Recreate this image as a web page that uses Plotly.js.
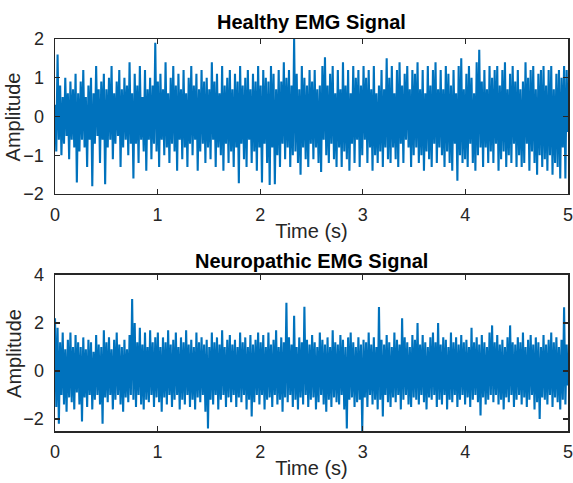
<!DOCTYPE html>
<html>
<head>
<meta charset="utf-8">
<script src="https://cdn.plot.ly/plotly-3.0.1.min.js"></script>
<style>html,body{margin:0;padding:0;background:#fff;}#chart{width:573px;height:483px;}</style>
</head>
<body>
<div id="chart"></div>
<script>
const timeStart = 0;
const timeEnd = 5;
const healthySignal = [
0.3,-0.9,1.6,-0.6,0.8,-1.0,0.5,-0.7,1.0,-0.5,0.6,-1.1,0.9,-0.6,0.7,-0.8,1.1,-1.7,0.6,-0.9,
0.9,-0.6,1.2,-0.8,0.5,-1.3,0.8,-0.6,1.0,-1.8,0.6,-0.7,1.3,-0.5,0.7,-1.2,0.9,-0.6,1.1,-1.75,
0.7,-0.8,1.0,-0.6,1.3,-1.1,0.6,-0.7,0.9,-0.5,1.2,-1.3,0.7,-0.8,1.0,-0.6,0.8,-1.0,1.4,-0.7,
0.6,-1.6,1.1,-0.7,0.8,-1.2,1.3,-0.6,0.5,-0.9,1.2,-1.4,0.7,-0.6,1.0,-1.1,0.8,-0.7,1.9,-0.9,
0.9,-1.3,1.1,-0.6,0.7,-1.0,1.4,-0.8,0.6,-1.2,1.0,-0.7,1.3,-0.9,0.8,-1.4,1.1,-0.6,0.7,-1.1,
1.2,-0.8,0.6,-1.3,1.0,-0.7,1.3,-1.0,0.8,-0.6,1.1,-1.4,0.7,-0.9,1.2,-0.7,0.9,-1.2,1.0,-0.8,
0.7,-1.1,1.4,-0.6,0.9,-1.3,1.1,-0.8,0.6,-1.0,1.3,-1.4,0.8,-0.7,1.0,-1.2,1.2,-0.9,0.7,-1.3,
1.1,-0.8,0.9,-1.72,1.3,-0.7,0.8,-1.1,1.0,-1.3,1.2,-0.6,0.7,-1.2,1.1,-0.9,0.9,-1.4,1.3,-0.8,
0.8,-1.7,1.2,-0.7,1.0,-1.2,0.9,-1.77,1.3,-0.8,1.1,-1.75,0.7,-1.0,1.2,-1.3,0.9,-0.7,1.4,-1.1,
1.0,-0.8,1.2,-1.3,0.8,-1.0,2.0,-0.9,1.1,-1.2,0.7,-1.5,1.3,-0.8,1.0,-1.1,0.8,-1.3,1.2,-0.7,
0.9,-1.1,1.2,-0.8,0.7,-1.2,0.8,-1.43,1.3,-0.6,1.53,-1.0,0.8,-1.2,1.1,-0.7,1.3,-1.1,0.6,-1.3,
1.2,-0.8,0.7,-1.3,1.4,-0.9,0.8,-1.1,1.2,-1.4,0.6,-0.7,1.3,-1.2,1.0,-0.6,1.2,-1.3,0.8,-1.0,
1.3,-0.6,1.0,-1.2,1.2,-0.8,0.7,-1.4,1.3,-1.0,0.6,-1.2,0.8,-0.9,1.2,-1.3,0.7,-0.8,1.5,-1.1,
1.0,-1.2,1.3,-0.8,0.6,-1.1,1.2,-1.3,1.4,-0.7,0.8,-1.2,1.1,-0.6,1.3,-0.8,0.7,-1.3,1.2,-1.0,
1.1,-0.8,1.4,-1.2,0.7,-1.0,1.2,-1.4,0.6,-0.9,1.3,-1.1,0.8,-1.3,1.2,-0.7,1.4,-1.2,0.7,-0.8,
1.2,-1.0,0.7,-1.3,1.3,-0.9,1.1,-1.2,0.8,-1.4,1.2,-0.7,0.6,-1.66,1.3,-1.0,1.5,-1.2,0.7,-1.1,
1.1,-1.3,1.3,-0.7,1.0,-1.2,0.6,-1.4,1.4,-1.0,1.72,-0.8,0.9,-1.3,1.2,-0.8,0.7,-1.2,1.3,-0.9,
1.0,-1.2,1.2,-0.7,1.3,-1.4,0.8,-1.1,1.2,-0.9,1.4,-1.3,0.7,-1.0,1.1,-1.2,1.3,-0.7,0.9,-1.3,
1.2,-1.0,0.7,-1.3,0.9,-1.2,1.4,-0.7,1.0,-1.4,1.2,-0.9,1.3,-1.2,0.7,-1.5,1.1,-1.0,1.2,-1.3,
1.3,-1.1,0.8,-1.4,1.2,-1.0,1.3,-1.5,0.7,-1.2,1.1,-1.3,1.2,-1.6,1.0,-0.8,1.3,-1.6,1.2,-0.4
];
const neuropathicSignal = [
2.2,-1.5,1.8,-2.2,1.2,-1.0,1.6,-1.4,0.9,-1.7,1.3,-1.1,1.6,-1.3,1.0,-1.6,1.5,-0.9,1.2,-1.4,
1.0,-2.1,1.4,-1.1,0.9,-1.5,1.3,-1.0,1.2,-1.6,0.8,-1.2,1.5,-1.0,1.1,-1.4,1.0,-2.2,1.7,-1.1,
1.2,-1.3,1.4,-1.0,0.9,-1.6,1.3,-1.2,1.6,-1.0,1.1,-1.4,1.0,-1.7,1.3,-1.1,0.9,-1.3,1.5,-1.0,
3.0,-1.2,2.0,-1.5,1.2,-1.0,1.8,-1.4,1.1,-1.6,1.6,-1.2,1.0,-1.3,1.7,-1.0,1.2,-1.5,1.4,-1.1,
1.6,-1.3,1.0,-1.7,1.4,-1.1,1.2,-1.4,1.7,-1.0,1.1,-1.5,1.3,-1.2,1.6,-1.0,1.0,-1.6,1.4,-1.2,
1.2,-1.4,1.7,-1.0,1.1,-1.5,1.3,-1.2,1.0,-1.6,1.6,-1.1,1.2,-1.3,1.4,-1.0,1.1,-1.7,1.3,-2.4,
1.0,-1.2,1.6,-1.4,1.2,-1.0,1.4,-1.6,1.1,-1.2,1.7,-1.0,1.0,-1.5,1.3,-1.1,1.5,-1.3,1.1,-1.0,
1.3,-1.5,1.0,-1.1,1.6,-1.3,1.2,-1.0,1.4,-1.6,1.0,-1.2,1.5,-1.9,1.1,-1.3,1.3,-1.0,1.6,-1.4,
1.2,-1.0,1.5,-1.6,1.0,-1.2,1.6,-1.1,1.1,-1.5,1.3,-1.0,1.7,-1.4,1.0,-1.2,1.4,-1.7,1.2,-1.1,
2.84,-1.3,1.4,-1.0,1.1,-1.5,2.3,-1.2,1.0,-1.6,1.4,-1.1,1.2,-1.4,2.68,-1.0,1.3,-1.5,1.1,-1.2,
1.5,-1.1,1.2,-1.6,1.0,-1.3,1.6,-1.0,1.3,-1.4,1.1,-1.7,1.4,-1.2,1.0,-1.5,1.7,-1.1,1.2,-1.3,
1.1,-1.4,1.5,-1.0,1.3,-1.6,1.0,-2.4,1.4,-1.2,1.6,-1.1,1.2,-1.5,1.0,-1.3,1.4,-1.2,1.1,-2.5,
1.3,-1.1,1.2,-1.5,1.6,-1.0,1.1,-1.4,1.4,-1.2,1.0,-1.6,2.67,-1.2,1.3,-1.9,1.1,-1.0,1.5,-1.3,
1.2,-1.5,1.0,-1.1,1.6,-1.3,1.3,-1.0,1.1,-1.6,2.2,-1.2,1.4,-1.0,1.2,-1.4,1.0,-1.5,1.5,-1.1,
1.3,-1.2,2.0,-1.4,1.1,-1.0,1.5,-1.3,1.2,-1.6,1.0,-1.1,1.4,-1.2,1.6,-1.0,1.2,-1.5,2.0,-1.2,
1.1,-1.4,1.4,-1.0,1.3,-1.6,1.0,-1.2,1.6,-1.3,1.2,-1.0,1.4,-1.5,1.1,-1.2,1.5,-1.0,1.2,-1.4,
1.3,-1.1,1.0,-1.5,1.8,-1.2,1.2,-1.0,1.4,-1.3,1.1,-1.85,1.5,-1.1,1.2,-1.4,1.0,-1.2,1.6,-1.0,
1.9,-1.3,1.2,-1.0,1.5,-1.4,1.1,-1.2,1.3,-1.6,1.0,-1.1,1.4,-1.3,1.9,-1.0,1.2,-1.5,1.1,-1.2,
1.4,-1.0,1.2,-1.4,1.6,-1.1,1.0,-1.5,1.3,-1.2,1.5,-1.0,1.1,-1.6,1.4,-1.3,1.2,-2.0,1.0,-1.1,
1.5,-1.2,1.1,-1.4,1.3,-1.0,1.6,-1.5,1.2,-1.1,1.4,-1.3,1.0,-1.6,1.3,-1.2,2.65,-1.4,1.1,-0.6
];
const titles = ["Healthy EMG Signal", "Neuropathic EMG Signal"];
const xLabel = "Time (s)";
const yLabel = "Amplitude";
const xTicks = [0, 1, 2, 3, 4, 5];
const yTicksTop = [-2, -1, 0, 1, 2];
const yTicksBottom = [-2, 0, 2, 4];

const lineColor = "#0072BD";
const axisColor = "#262626";
const font = "Liberation Sans, Arial, sans-serif";

function trace(y, xa, ya) {
  return {
    type: "scatter", mode: "lines", y: y,
    x0: timeStart, dx: (timeEnd - timeStart) / (y.length - 1),
    xaxis: xa, yaxis: ya,
    line: {color: lineColor, width: 2.1},
    hoverinfo: "skip", showlegend: false
  };
}

function xAxis(anchor) {
  return {
    anchor: anchor, range: [timeStart, timeEnd + 0.0005], tickvals: xTicks,
    ticks: "inside", ticklen: 5, tickwidth: 1.3, tickcolor: axisColor,
    showline: true, linecolor: axisColor, linewidth: 1.5, mirror: "ticks",
    showgrid: false, zeroline: false, ticklabelstandoff: 4,
    tickfont: {family: font, size: 18, color: axisColor},
    title: {text: xLabel, font: {family: font, size: 20, color: axisColor}, standoff: 0}
  };
}
function yAxis(anchor, domain, range, ticks) {
  return {
    anchor: anchor, domain: domain, range: range, tickvals: ticks,
    ticks: "inside", ticklen: 5, tickwidth: 1.3, tickcolor: axisColor,
    showline: true, linecolor: axisColor, linewidth: 1.5, mirror: "ticks",
    showgrid: false, zeroline: false, ticklabelstandoff: 6,
    tickfont: {family: font, size: 18, color: axisColor}
  };
}

const data = [
  trace(healthySignal, "x", "y"),
  trace(neuropathicSignal, "x2", "y2")
];

function yTitle(yCenter) {
  return {text: yLabel, xref: "paper", yref: "paper", x: -0.08, y: yCenter,
    xanchor: "center", yanchor: "middle", textangle: -90, showarrow: false,
    font: {family: font, size: 20, color: axisColor}};
}

const layout = {
  width: 573, height: 483,
  margin: {l: 55, r: 5, t: 39, b: 52},
  paper_bgcolor: "#ffffff", plot_bgcolor: "#ffffff",
  font: {family: font, color: axisColor},
  xaxis: xAxis("y"),
  yaxis: yAxis("x", [0.6046, 1], [-2, 2], yTicksTop),
  xaxis2: xAxis("y2"),
  yaxis2: yAxis("x2", [0, 0.398], [-2.5, 4], yTicksBottom),
  annotations: [
    {text: "<b>" + titles[0] + "</b>", xref: "paper", yref: "paper", x: 0.5, y: 1.0434,
     xanchor: "center", yanchor: "middle", showarrow: false,
     font: {family: font, size: 20, color: "#000000"}},
    {text: "<b>" + titles[1] + "</b>", xref: "paper", yref: "paper", x: 0.5, y: 0.4337,
     xanchor: "center", yanchor: "middle", showarrow: false,
     font: {family: font, size: 20, color: "#000000"}},
    yTitle(0.8023),
    yTitle(0.199)
  ]
};

Plotly.newPlot("chart", data, layout, {staticPlot: true, displayModeBar: false});
</script>
</body>
</html>
